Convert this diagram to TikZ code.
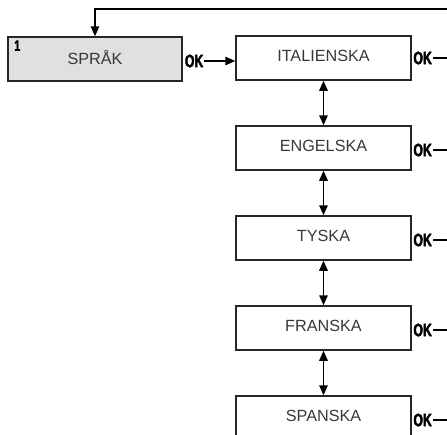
\documentclass[tikz,border=0pt]{standalone}
\usepackage{fontspec}
\setmainfont{Liberation Sans}
\newfontfamily\okfont[FakeStretch=0.68, FakeBold=2.5]{Liberation Sans Bold}
\usetikzlibrary{positioning, calc, arrows.meta}

\begin{document}
\begin{tikzpicture}[x=1pt, y=-1pt,
					MenuNode/.style={rectangle, draw=black!85, line width=1.5pt, minimum width=175pt, minimum height=44pt, inner sep=0pt, text=black!78, text depth=4pt, font=\fontsize{16.2}{18}\selectfont},
					OkNode/.style={inner sep=0pt, font=\fontsize{18}{20}\okfont},
					Link/.style={line width=1.5pt, -{Triangle[length=10pt, width=8.5pt]}},
					BothLink/.style={line width=1.5pt, {Triangle[length=10pt, width=8.5pt]}-{Triangle[length=10pt, width=8.5pt]}}]

				\useasboundingbox (0,0) rectangle (447,434);

				\node[MenuNode, fill=black!12, minimum width=174pt] (Sprak) at (95,59) {SPRÅK};
				\node[anchor=north west, inner sep=0pt, font=\fontsize{15}{16}\okfont] (MenuNum) at ($(Sprak.north west) + (7,4)$) {1};

				\node[MenuNode] (Ital) at (323.5,58) {ITALIENSKA};
				\node[MenuNode, below=44.5pt of Ital] (Eng) {ENGELSKA};
				\node[MenuNode, below=44.5pt of Eng] (Tysk) {TYSKA};
				\node[MenuNode, below=44.5pt of Tysk] (Fran) {FRANSKA};
				\node[MenuNode, below=44.5pt of Fran] (Span) {SPANSKA};

				\node[OkNode, right=2pt of Sprak, yshift=-2pt] (OkSprak) {OK};
				\node[OkNode, right=1.5pt of Ital] (OkItal) {OK};
				\node[OkNode, right=1.5pt of Eng, yshift=-2pt] (OkEng) {OK};
				\node[OkNode, right=1.5pt of Tysk, yshift=-2pt] (OkTysk) {OK};
				\node[OkNode, right=1.5pt of Fran, yshift=-2pt] (OkFran) {OK};
				\node[OkNode, right=1.5pt of Span, yshift=-2pt] (OkSpan) {OK};

				\coordinate (RightEdge) at (447,0);
				\coordinate (TopRight) at (447,9);

				\draw[Link] (TopRight) -| (Sprak.north);
				\draw[Link] (OkSprak.east) -- (OkSprak.east -| Ital.west);

				\draw[BothLink] (Ital.south) -- (Eng.north);
				\draw[BothLink] (Eng.south) -- (Tysk.north);
				\draw[BothLink] (Tysk.south) -- (Fran.north);
				\draw[BothLink] (Fran.south) -- (Span.north);

				\draw[line width=1.2pt] ($(OkItal.east) + (1,0)$) -- (OkItal.east -| RightEdge);
				\draw[line width=1.2pt] ($(OkEng.east) + (1,0)$) -- (OkEng.east -| RightEdge);
				\draw[line width=1.2pt] ($(OkTysk.east) + (1,0)$) -- (OkTysk.east -| RightEdge);
				\draw[line width=1.2pt] ($(OkFran.east) + (1,0)$) -- (OkFran.east -| RightEdge);
				\draw[line width=1.2pt] ($(OkSpan.east) + (1,0)$) -- (OkSpan.east -| RightEdge);
			\end{tikzpicture}
\end{document}
